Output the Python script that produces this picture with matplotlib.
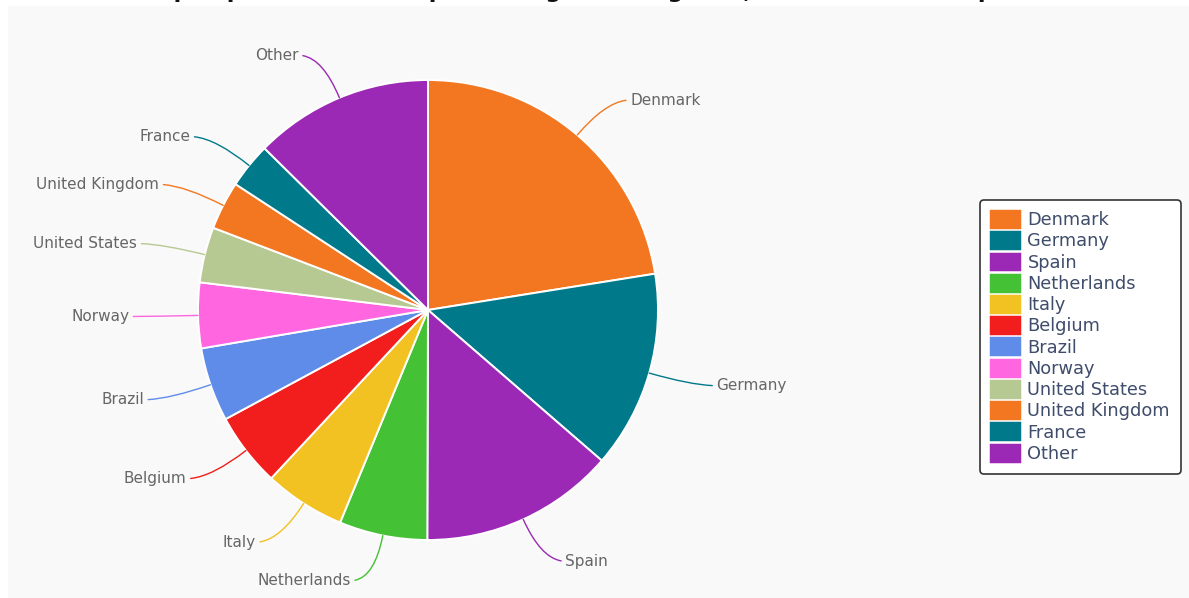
import numpy as np
import matplotlib
matplotlib.use("Agg")
import matplotlib.pyplot as plt
from matplotlib.patches import Rectangle, Patch

countries = ["Denmark", "Germany", "Spain", "Netherlands", "Italy", "Belgium",
             "Brazil", "Norway", "United States", "United Kingdom", "France", "Other"]
shares = [22.5, 13.9, 13.7, 6.2, 5.7, 5.2, 5.2, 4.6, 3.9, 3.4, 3.2, 12.6]
colors = ["#f37721", "#007a8b", "#9b29b5", "#44c134", "#f2c122", "#f21d1d",
          "#5f8ce8", "#ff66e0", "#b7c993", "#f37721", "#007a8b", "#9b29b5"]
title = "Top exporters of wind-powered generating sets, share of world exports"

W, H, DPI = 1189, 598, 100
fig = plt.figure(figsize=(W / DPI, H / DPI), dpi=DPI, facecolor="white")

# light gray plot background
fig.patches.append(Rectangle((8 / W, 0), 1 - 8 / W, 1 - 6 / H, transform=fig.transFigure,
                             facecolor="#f9f9f9", edgecolor="none", zorder=-5))

R = 230.0
cx, cy = 428.0, 310.0
ax = fig.add_axes([0, 0, 1, 1], zorder=2)
ax.patch.set_alpha(0)

wedges, _ = ax.pie(shares, colors=colors, startangle=90, counterclock=False, radius=1.0,
                   wedgeprops=dict(edgecolor="white", linewidth=1.4))
ax.set_aspect("auto")
ax.set_xlim(-cx / R, (W - cx) / R)
ax.set_ylim(-(H - cy) / R, cy / R)
ax.set_axis_off()

r_ctrl = 1.2
x_off = 0.1
for w, name, col in zip(wedges, countries, colors):
    mid_deg = (w.theta1 + w.theta2) / 2.0
    mid = np.deg2rad(mid_deg)
    ex, ey = np.cos(mid), np.sin(mid)
    right = ex >= 0
    sgn = 1 if right else -1
    tx = r_ctrl * np.cos(mid) + sgn * x_off
    ty = r_ctrl * np.sin(mid)
    ha = "left" if right else "right"
    ax.annotate(name, xy=(ex, ey), xytext=(tx, ty), ha=ha, va="center",
                fontsize=11, color="#666666",
                arrowprops=dict(arrowstyle="-", color=col, lw=1.0, shrinkA=1, shrinkB=0,
                                relpos=(0, 0.5) if right else (1, 0.5),
                                connectionstyle=f"angle3,angleA=0,angleB={mid_deg:.1f}"))

handles = [Patch(facecolor=c, edgecolor=c, linewidth=2.5, joinstyle="round") for c in colors]
leg = fig.legend(handles, countries, loc="upper left",
                 bbox_to_anchor=(980 / W, 1 - 200 / H), fontsize=12.8,
                 frameon=True, fancybox=True, framealpha=1.0, edgecolor="#333333",
                 facecolor="white", handlelength=1.55, handleheight=1.0,
                 handletextpad=0.5, labelspacing=0.18, borderpad=0.62, borderaxespad=0)
leg.get_frame().set_linewidth(1.2)
for t in leg.get_texts():
    t.set_color("#3f4c6b")

fig.text(0.5, 1.0 + 1.5 / H, title, ha="center", va="baseline", fontsize=16, fontweight="bold",
         color="#111111")

fig.savefig("out.png", dpi=DPI, facecolor="white")
